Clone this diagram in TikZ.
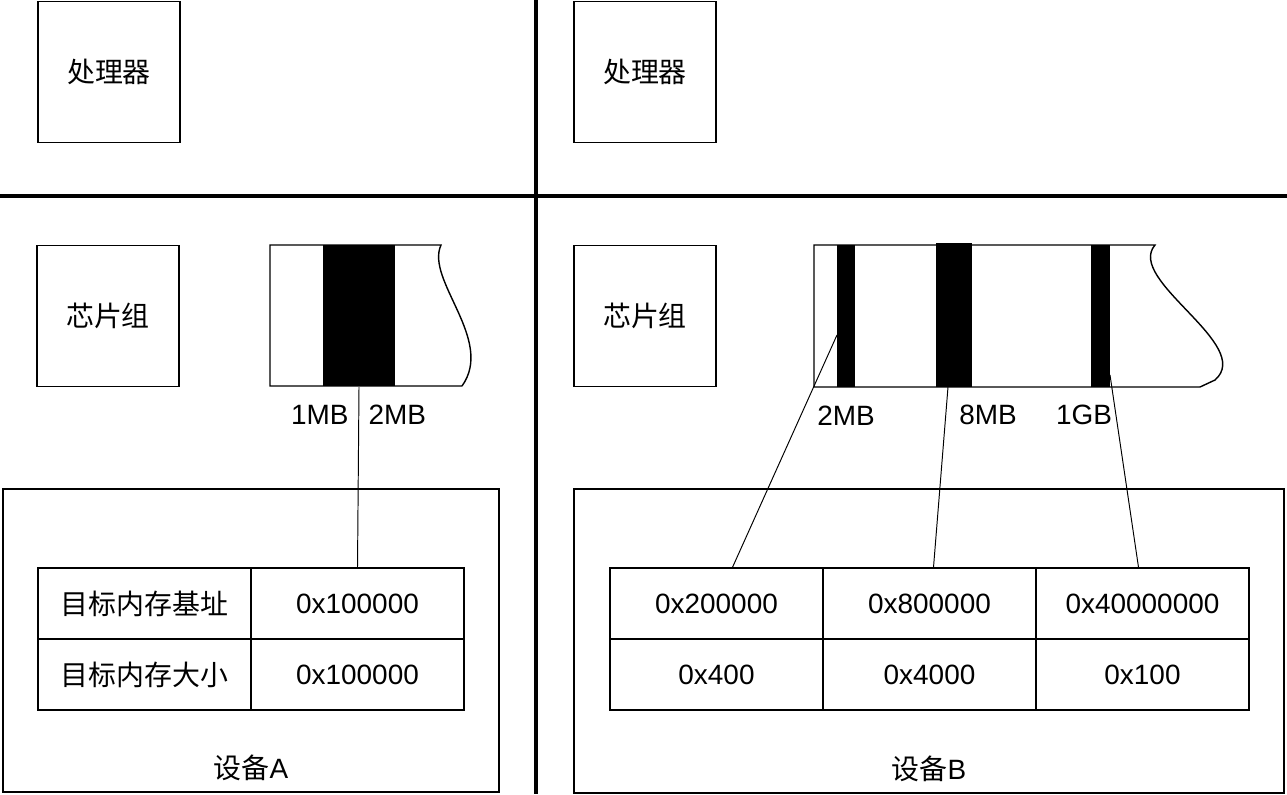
\documentclass[tikz,border=0pt]{standalone}
\usepackage{fontspec}
\setmainfont{Liberation Sans}
\newfontfamily\cjk{Noto Sans CJK SC}
\usetikzlibrary{calc}

\begin{document}
\begin{tikzpicture}[x=0.02cm, y=-0.02cm, line width=0.8pt,
  every node/.style={font=\fontsize{15.9}{19}\selectfont, align=center},
  box/.style={draw, minimum width=2.84cm, minimum height=2.82cm},
  cell/.style={draw, minimum width=4.26cm, minimum height=1.42cm},
  bar/.style={fill=black, inner sep=0pt, minimum height=2.84cm}]
\useasboundingbox (0,0) rectangle (1287,794);

% Dividers
\draw[line width=1.9pt] (536,0) -- (536,794);
\draw[line width=1.9pt] (0,196) -- (1287,196);

% Processors and chipsets
\node[box] (cpuA) at (109,72) {\cjk 处理器};
\node[box] (cpuB) at (645,72) {\cjk 处理器};
\node[box] (chipA) at (108,316) {\cjk 芯片组};
\node[box] (chipB) at (645,316) {\cjk 芯片组};

% Memory map A
\draw[fill=white] (462,386) -- (270,386) -- (270,245) -- (441,245)
  .. controls (425,280) and (495,340) .. (462,386);
\node[bar, minimum width=1.44cm] (barA) at (359,315.5) {};
\node[anchor=east] (mbA1) at (355,415) {1MB};
\node[anchor=west] (mbA2) at (362,415) {2MB};

% Memory map B
\draw[fill=white] (1200,387) -- (814,387) -- (814,245) -- (1155,245)
  .. controls (1125,280) and (1255,345) .. (1215,380) -- (1200,387);
\node[bar, minimum width=0.36cm] (barB1) at (846,316) {};
\node[bar, minimum width=0.72cm, minimum height=2.88cm] (barB2) at (954,315) {};
\node[bar, minimum width=0.38cm] (barB3) at (1100.5,316) {};
\node (mbB1) at (846,416) {2MB};
\node (mbB2) at (988,415) {8MB};
\node (mbB3) at (1084,415) {1GB};
\coordinate (tipB1) at (837,335);
\coordinate (tipB2) at (948,387);
\coordinate (tipB3) at (1110,375);

% Device A
\node[draw, minimum width=9.92cm, minimum height=6.06cm] (devA) at (251,640.5) {};
\node[cell] (a11) at (144.5,603.5) {\cjk 目标内存基址};
\node[cell] (a12) at (357.5,603.5) {0x100000};
\node[cell] (a21) at (144.5,674.5) {\cjk 目标内存大小};
\node[cell] (a22) at (357.5,674.5) {0x100000};
\node (nameA) at ($(devA.south)+(0,-25)$) {{\cjk 设备}A};

% Device B
\node[draw, minimum width=14.2cm, minimum height=6.08cm] (devB) at (929,641) {};
\node[cell] (b11) at (716.5,603.5) {0x200000};
\node[cell] (b12) at (929.5,603.5) {0x800000};
\node[cell] (b13) at (1142.5,603.5) {0x40000000};
\node[cell] (b21) at (716.5,674.5) {0x400};
\node[cell] (b22) at (929.5,674.5) {0x4000};
\node[cell] (b23) at (1142.5,674.5) {0x100};
\node (nameB) at ($(devB.south)+(0,-25)$) {{\cjk 设备}B};

% Links
\draw[line width=0.55pt] (barA.south) -- (a12.north);
\draw[line width=0.55pt] (tipB1) -- ($(b11.north)+(16,0)$);
\draw[line width=0.55pt] (tipB2) -- ($(b12.north)+(4,0)$);
\draw[line width=0.55pt] (tipB3) -- ($(b13.north)+(-4,0)$);
\end{tikzpicture}
\end{document}
